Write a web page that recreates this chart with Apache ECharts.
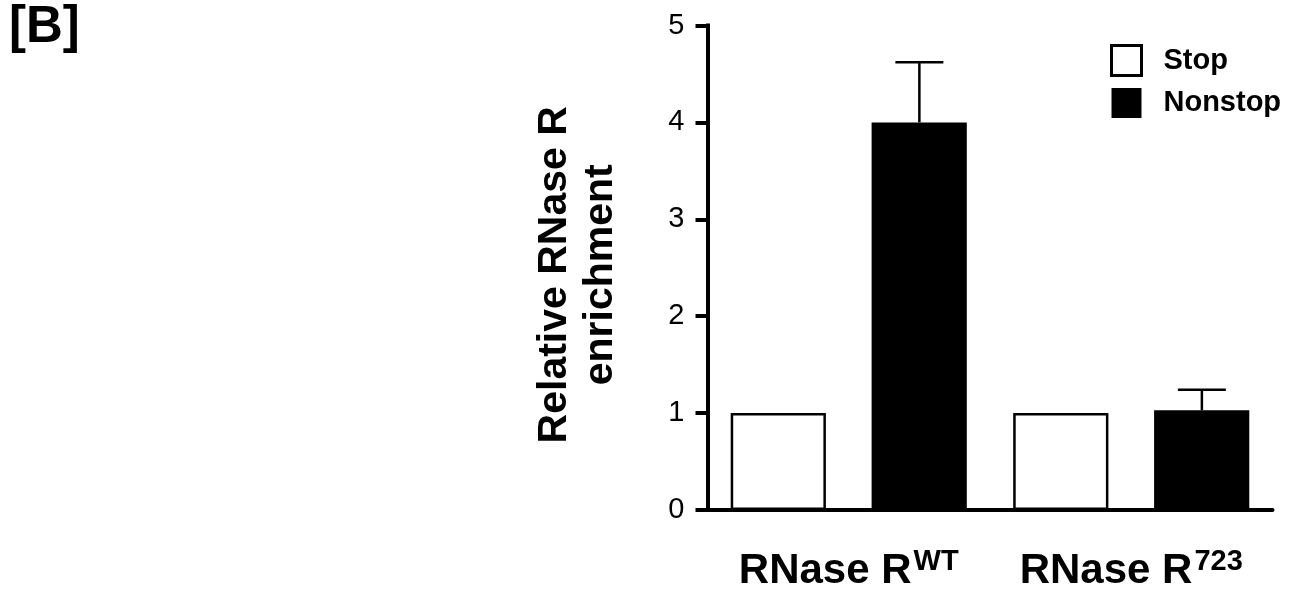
<!DOCTYPE html>
<html>
<head>
<meta charset="utf-8">
<script src="https://cdn.jsdelivr.net/npm/echarts@6/dist/echarts.min.js"></script>
<style>
html,body{margin:0;padding:0;background:#fff;}
#chart{width:1298px;height:592px;}
</style>
</head>
<body>
<div id="chart"></div>
<script>
// ---- data ----
var categories = ['WT', '723'];
var stopValues = [1.0, 1.0];
var nonstopValues = [4.0, 1.03];
var nonstopErrors = [0.62, 0.21];
var yTicks = [0, 1, 2, 3, 4, 5];
var panelLabel = '[B]';
var yTitle = 'Relative RNase R\nenrichment';

var FONT = '"Liberation Sans", Arial, Helvetica, sans-serif';

var errData = categories.map(function (c, i) {
  return [i, nonstopValues[i], nonstopValues[i] + nonstopErrors[i]];
});

var chart = echarts.init(document.getElementById('chart'), null, {renderer: 'canvas'});
chart.setOption({
  backgroundColor: '#fff',
  animation: false,
  title: {
    text: panelLabel,
    left: 4,
    top: -3,
    textStyle: {fontFamily: FONT, fontSize: 51, fontWeight: 'bold', color: '#000'}
  },
  legend: {
    orient: 'vertical',
    left: 1110,
    top: 44,
    padding: 0,
    itemWidth: 30,
    itemHeight: 30,
    itemGap: 11,
    icon: 'rect',
    textStyle: {fontFamily: FONT, fontSize: 29, fontWeight: 'bold', color: '#000', padding: [0, 0, 0, 17]},
    data: [
      {name: 'Stop', itemStyle: {color: '#fff', borderColor: '#000', borderWidth: 3}},
      {name: 'Nonstop', itemStyle: {color: '#000', borderColor: '#000', borderWidth: 0}}
    ]
  },
  grid: {left: 707.5, right: 25.5, top: 25.5, bottom: 80.5, containLabel: false},
  xAxis: {
    type: 'category',
    data: categories,
    axisLine: {lineStyle: {color: '#000', width: 4}},
    axisTick: {show: false},
    axisLabel: {
      margin: 37,
      formatter: function (v) { return '{b|RNase R}{s|' + v + '}'; },
      rich: {
        b: {fontFamily: FONT, fontSize: 42, fontWeight: 'bold', color: '#000', lineHeight: 48},
        s: {fontFamily: FONT, fontSize: 29, fontWeight: 'bold', color: '#000', lineHeight: 30, verticalAlign: 'top', padding: [0, 0, 0, 2]}
      }
    }
  },
  yAxis: {
    type: 'value',
    min: yTicks[0],
    max: yTicks[yTicks.length - 1],
    interval: 1,
    name: yTitle,
    nameLocation: 'middle',
    nameRotate: 90,
    nameGap: 84,
    nameTextStyle: {fontFamily: FONT, fontSize: 41, fontWeight: 'bold', color: '#000', lineHeight: 46, padding: [0, 14, 0, 0]},
    axisLine: {show: true, lineStyle: {color: '#000', width: 4, cap: 'square'}},
    axisTick: {show: true, length: 12, lineStyle: {color: '#000', width: 4}},
    axisLabel: {margin: 23, fontFamily: FONT, fontSize: 29, color: '#000'},
    splitLine: {show: false}
  },
  series: [
    {
      name: 'Stop',
      type: 'bar',
      data: stopValues,
      barWidth: '33.7%',
      barGap: '48%',
      itemStyle: {color: '#fff', borderColor: '#000', borderWidth: 2.5}
    },
    {
      name: 'Nonstop',
      type: 'bar',
      data: nonstopValues,
      barWidth: '33.7%',
      barGap: '48%',
      itemStyle: {color: '#000', borderColor: '#000', borderWidth: 2.5}
    },
    {
      name: 'err',
      type: 'custom',
      z: 5,
      silent: true,
      data: errData,
      renderItem: function (params, api) {
        var catW = api.size([1, 0])[0];
        var x = api.coord([api.value(0), 0])[0] + catW * 0.25;
        var yLow = api.coord([api.value(0), api.value(1)])[1];
        var yHigh = api.coord([api.value(0), api.value(2)])[1];
        var half = 24;
        var style = {stroke: '#000', lineWidth: 2.5, fill: null};
        return {
          type: 'group',
          children: [
            {type: 'line', shape: {x1: x, y1: yLow, x2: x, y2: yHigh}, style: style},
            {type: 'line', shape: {x1: x - half, y1: yHigh, x2: x + half, y2: yHigh}, style: style}
          ]
        };
      }
    }
  ]
});
</script>
</body>
</html>
